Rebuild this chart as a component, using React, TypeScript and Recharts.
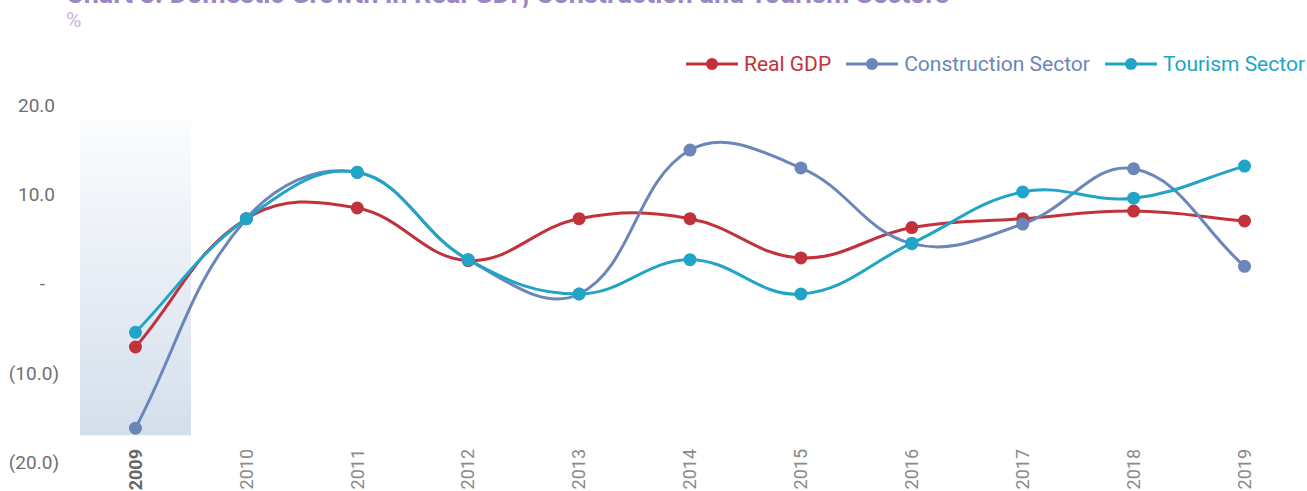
import React from "react";
import { ComposedChart, Line, Bar, XAxis, YAxis } from "recharts";

const years = ["2009", "2010", "2011", "2012", "2013", "2014", "2015", "2016", "2017", "2018", "2019"];
const realGdp = [-7.1, 7.3, 8.5, 2.6, 7.3, 7.3, 2.9, 6.3, 7.3, 8.15, 7.05];
const construction = [-16.2, 7.3, 12.5, 2.7, -1.15, 15.0, 13.0, 4.5, 6.7, 12.9, 1.95];
const tourism = [-5.45, 7.3, 12.5, 2.7, -1.15, 2.7, -1.15, 4.55, 10.3, 9.6, 13.2];
const highlightYear = "2009";
const highlightRange: [number, number] = [-17, 18.3];
const yTicks = [-20, -10, 0, 10, 20];

const series = [
  { key: "gdp", name: "Real GDP", color: "#c1323b" },
  { key: "construction", name: "Construction Sector", color: "#6b86b9" },
  { key: "tourism", name: "Tourism Sector", color: "#20a5c6" },
];

const data = years.map((year, i) => ({
  year,
  gdp: realGdp[i],
  construction: construction[i],
  tourism: tourism[i],
  band: year === highlightYear ? highlightRange : null,
}));

// chart.js style spline (tension 0.4)
const TENSION = 0.4;
function splineCurve(context: any) {
  let pts: number[][] = [];
  return {
    areaStart() {},
    areaEnd() {},
    lineStart() {
      pts = [];
    },
    lineEnd() {
      const n = pts.length;
      if (!n) return;
      context.moveTo(pts[0][0], pts[0][1]);
      if (n === 1) return;
      const ctrl = pts.map((p, i) => {
        const prev = pts[i - 1] || p;
        const next = pts[i + 1] || p;
        const d01 = Math.hypot(p[0] - prev[0], p[1] - prev[1]);
        const d12 = Math.hypot(next[0] - p[0], next[1] - p[1]);
        const s01 = d01 / (d01 + d12) || 0;
        const s12 = d12 / (d01 + d12) || 0;
        const fa = TENSION * s01;
        const fb = TENSION * s12;
        return {
          px: p[0] - fa * (next[0] - prev[0]),
          py: p[1] - fa * (next[1] - prev[1]),
          nx: p[0] + fb * (next[0] - prev[0]),
          ny: p[1] + fb * (next[1] - prev[1]),
        };
      });
      for (let i = 1; i < n; i++) {
        context.bezierCurveTo(ctrl[i - 1].nx, ctrl[i - 1].ny, ctrl[i].px, ctrl[i].py, pts[i][0], pts[i][1]);
      }
    },
    point(x: number, y: number) {
      pts.push([+x, +y]);
    },
  };
}

const fmt = (v: number) => {
  if (v === 0) return "-";
  if (v < 0) return `(${Math.abs(v).toFixed(1)})`;
  return v.toFixed(1);
};

const YTick = (props: any) => {
  const { x, y, payload } = props;
  const v = payload.value;
  const shift = v === 0 ? 35 : v > 0 ? 25 : 21;
  return (
    <text x={x - shift} y={y} dy="0.35em" textAnchor="end" fontSize={19} fill="#707070" fontFamily="Roboto">
      {fmt(v)}
    </text>
  );
};

const XTick = (props: any) => {
  const { x, y, payload } = props;
  const hl = payload.value === highlightYear;
  return (
    <text
      transform={`translate(${x},${y - 13}) rotate(-90)`}
      dy="0.35em"
      textAnchor="end"
      fontSize={18}
      fontWeight={hl ? 700 : 400}
      fill={hl ? "#666666" : "#8a8a8a"}
      fontFamily="Roboto"
    >
      {payload.value}
    </text>
  );
};

export default function App() {
  return (
    <div
      style={{
        position: "fixed",
        left: 0,
        top: 0,
        width: 1307,
        height: 491,
        overflow: "hidden",
        background: "#fff",
        fontFamily: "Roboto",
      }}
    >
      <div
        style={{
          position: "absolute",
          left: 66,
          top: -19,
          fontSize: 27,
          lineHeight: "27px",
          fontWeight: 700,
          color: "#9a88c4",
          whiteSpace: "nowrap",
        }}
      >
        Chart 3: Domestic Growth in Real GDP, Construction and Tourism Sectors
      </div>
      <div style={{ position: "absolute", left: 66, top: 10, fontSize: 21, lineHeight: "21px", color: "#c9b6dd" }}>%</div>

      <div
        style={{
          position: "absolute",
          right: 2,
          top: 52,
          display: "flex",
          alignItems: "center",
          gap: 15,
          fontSize: 21,
          lineHeight: "24px",
        }}
      >
        {series.map((s) => (
          <div key={s.key} style={{ display: "flex", alignItems: "center", gap: 6, color: s.color }}>
            <svg width={52} height={14}>
              <line x1={0} y1={7} x2={52} y2={7} stroke={s.color} strokeWidth={3} />
              <circle cx={26} cy={7} r={6} fill={s.color} />
            </svg>
            <span>{s.name}</span>
          </div>
        ))}
      </div>

      <ComposedChart
        width={1307}
        height={491}
        data={data}
        margin={{ top: 105.5, right: 7, bottom: 0, left: 0 }}
        barCategoryGap={0}
        style={{ position: "absolute", left: 0, top: 0 }}
      >
        <defs>
          <linearGradient id="bandGrad" x1="0" y1="0" x2="0" y2="1">
            <stop offset="0%" stopColor="#fbfcfe" />
            <stop offset="100%" stopColor="#d4dfec" />
          </linearGradient>
        </defs>
        <XAxis
          dataKey="year"
          height={29}
          axisLine={false}
          tickLine={false}
          tickSize={0}
          tickMargin={0}
          interval={0}
          tick={<XTick />}
        />
        <YAxis
          domain={[-20, 20]}
          ticks={yTicks}
          width={80}
          axisLine={false}
          tickLine={false}
          tickSize={0}
          tickMargin={0}
          allowDataOverflow
          tick={<YTick />}
        />
        <Bar dataKey="band" fill="url(#bandGrad)" isAnimationActive={false} />
        {series.map((s) => (
          <Line
            key={s.key}
            dataKey={s.key}
            name={s.name}
            type={splineCurve as any}
            stroke={s.color}
            strokeWidth={3}
            dot={{ r: 6.5, fill: s.color, stroke: "none" }}
            activeDot={false}
            isAnimationActive={false}
          />
        ))}
      </ComposedChart>
    </div>
  );
}
